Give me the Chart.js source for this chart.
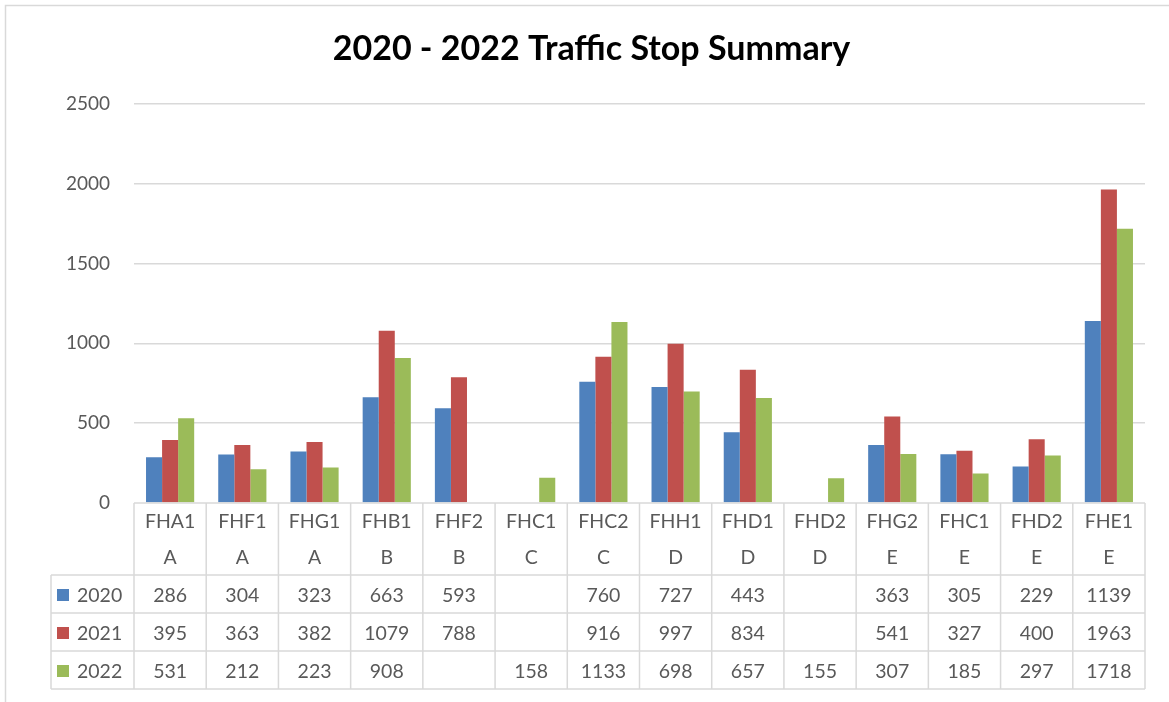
<!DOCTYPE html>
<html>
<head>
<meta charset="utf-8">
<script src="https://cdn.jsdelivr.net/npm/chart.js@4/dist/chart.umd.min.js"></script>
<style>
  html, body { margin: 0; padding: 0; background: #fff; }
  #wrap { width: 1169px; height: 702px; position: relative; }
</style>
</head>
<body>
<div id="wrap"><canvas id="trafficChart"></canvas></div>
<script>
var districts = ["FHA1", "FHF1", "FHG1", "FHB1", "FHF2", "FHC1", "FHC2", "FHH1", "FHD1", "FHD2", "FHG2", "FHC1", "FHD2", "FHE1"];
var sectors = ["A", "A", "A", "B", "B", "C", "C", "D", "D", "D", "E", "E", "E", "E"];
var years = ["2020", "2021", "2022"];
var stops2020 = [286, 304, 323, 663, 593, null, 760, 727, 443, null, 363, 305, 229, 1139];
var stops2021 = [395, 363, 382, 1079, 788, null, 916, 997, 834, null, 541, 327, 400, 1963];
var stops2022 = [531, 212, 223, 908, null, 158, 1133, 698, 657, 155, 307, 185, 297, 1718];
var yTicks = [0, 500, 1000, 1500, 2000, 2500];

var colors = ["#4F81BD", "#C0504D", "#9BBB59"];
var gridColor = "#D9D9D9";
var textColor = "#595959";
var fontFamily = "Lato, 'Open Sans', sans-serif";

// data table under the plot, Excel style
var dataTable = {
  id: 'dataTable',
  afterDraw: function(chart) {
    var ctx = chart.ctx;
    var x = chart.scales.x;
    var area = chart.chartArea;
    var n = districts.length;
    var colW = (area.right - area.left) / n;
    var top = area.bottom;
    var hdr1 = top + 37, hdr2 = top + 72;
    var rowH = 38;
    var legendLeft = 51;
    var allSeries = [stops2020, stops2021, stops2022];

    ctx.save();
    ctx.strokeStyle = gridColor;
    ctx.lineWidth = 1.5;

    // outer frame of the chart
    ctx.beginPath();
    ctx.moveTo(5.5, 702);
    ctx.lineTo(5.5, 5.5);
    ctx.lineTo(1169, 5.5);
    ctx.stroke();

    // horizontal lines
    ctx.beginPath();
    ctx.moveTo(area.left, top);
    ctx.lineTo(area.right, top);
    for (var r = 0; r <= 3; r++) {
      var yy = hdr2 + r * rowH;
      ctx.moveTo(legendLeft, yy);
      ctx.lineTo(area.right, yy);
    }
    // vertical lines
    for (var i = 0; i <= n; i++) {
      var xx = area.left + i * colW;
      ctx.moveTo(xx, top);
      ctx.lineTo(xx, hdr2 + 3 * rowH);
    }
    ctx.moveTo(legendLeft, hdr2);
    ctx.lineTo(legendLeft, hdr2 + 3 * rowH);
    ctx.stroke();

    ctx.fillStyle = textColor;
    ctx.font = "19.5px " + fontFamily;
    ctx.textAlign = "center";
    ctx.textBaseline = "middle";
    for (var j = 0; j < n; j++) {
      var cx = x.getPixelForValue(j);
      ctx.fillText(districts[j], cx, top + 19);
      ctx.fillText(sectors[j], cx, hdr1 + 18);
      for (var s = 0; s < allSeries.length; s++) {
        var v = allSeries[s][j];
        if (v !== null) {
          ctx.fillText(String(v), cx, hdr2 + s * rowH + rowH / 2 + 2);
        }
      }
    }

    // legend keys
    ctx.textAlign = "left";
    for (var k = 0; k < years.length; k++) {
      var ry = hdr2 + k * rowH + rowH / 2;
      ctx.fillStyle = colors[k];
      ctx.fillRect(57, ry - 5, 12, 12);
      ctx.fillStyle = textColor;
      ctx.fillText(years[k], 77, ry + 2);
    }
    ctx.restore();
  }
};

var ctx = document.getElementById("trafficChart");
var trafficChart = new Chart(ctx, {
  type: 'bar',
  data: {
    labels: districts,
    datasets: [
      { label: years[0], data: stops2020, backgroundColor: colors[0] },
      { label: years[1], data: stops2021, backgroundColor: colors[1] },
      { label: years[2], data: stops2022, backgroundColor: colors[2] }
    ]
  },
  options: {
    responsive: true,
    maintainAspectRatio: false,
    animation: false,
    layout: {
      padding: { left: 38, right: 24, top: 0, bottom: 199 }
    },
    datasets: {
      bar: { categoryPercentage: 0.667, barPercentage: 1.0 }
    },
    scales: {
      x: {
        display: false
      },
      y: {
        min: 0,
        max: 2500,
        afterFit: function(scale) { scale.width = 96; },
        afterBuildTicks: function(scale) {
          scale.ticks = yTicks.map(function(v) { return { value: v }; });
        },
        border: { display: false },
        grid: {
          color: function(c) { return c.tick.value === 0 ? 'rgba(0,0,0,0)' : gridColor; },
          lineWidth: 1.5,
          drawTicks: false
        },
        ticks: {
          color: textColor,
          padding: 24,
          font: { family: fontFamily, size: 19 },
          callback: function(value) { return String(value); }
        }
      }
    },
    plugins: {
      legend: { display: false },
      tooltip: { enabled: false },
      title: {
        display: true,
        text: "2020 - 2022 Traffic Stop Summary",
        color: "#000000",
        font: { family: fontFamily, size: 34, weight: 'bold' },
        padding: { top: 29, bottom: 34 }
      }
    }
  },
  plugins: [dataTable]
});
</script>
</body>
</html>
